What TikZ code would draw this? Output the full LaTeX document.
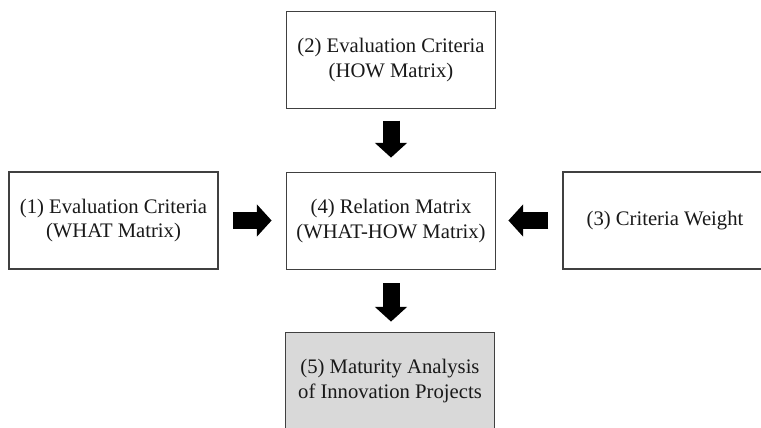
\documentclass[tikz,border=0pt]{standalone}
\usepackage{fontspec}
\setmainfont{Liberation Serif}
\usetikzlibrary{arrows.meta}
\definecolor{boxline}{HTML}{404040}
\definecolor{boxgray}{HTML}{D9D9D9}
\tikzset{
  box/.style={draw=boxline, line width=1.1pt, fill=white, minimum width=157pt, minimum height=73pt,
    align=center, inner sep=0pt, font=\fontsize{15.5pt}{18.5pt}\selectfont, text=black!90},
  blockarrow/.style={line width=12.75pt, black, -{Triangle[length=11pt,width=23.5pt]}},
}
\begin{document}
\begin{tikzpicture}[x=0.75pt,y=-0.75pt]
\clip (0,0) rectangle (761,428);
\fill[white] (0,0) rectangle (761,428);
\node[box] (n2) at (391,60) {(2) Evaluation Criteria\\(HOW Matrix)};
\node[box] (n1) at (113.5,220.5) {(1) Evaluation Criteria\\(WHAT Matrix)};
\node[box] (n4) at (391,221) {(4) Relation Matrix\\(WHAT-HOW Matrix)};
\node[box, minimum width=153pt] (n3) at (665,220.5) {(3) Criteria Weight};
\node[box, fill=boxgray] (n5) at (390,381) {(5) Maturity Analysis\\of Innovation Projects};
\draw[blockarrow, shorten <=8.5pt, shorten >=10.5pt] (n2.south) -- (n4.north);
\draw[blockarrow, shorten <=10.5pt, shorten >=10.5pt] (n1.east) -- (n1.east -| n4.west);
\draw[blockarrow, shorten <=10.5pt, shorten >=9pt] (n3.west) -- (n3.west -| n4.east);
\draw[blockarrow, shorten <=9.5pt, shorten >=7.5pt] (n4.south) -- (n4.south |- n5.north);
\end{tikzpicture}
\end{document}
